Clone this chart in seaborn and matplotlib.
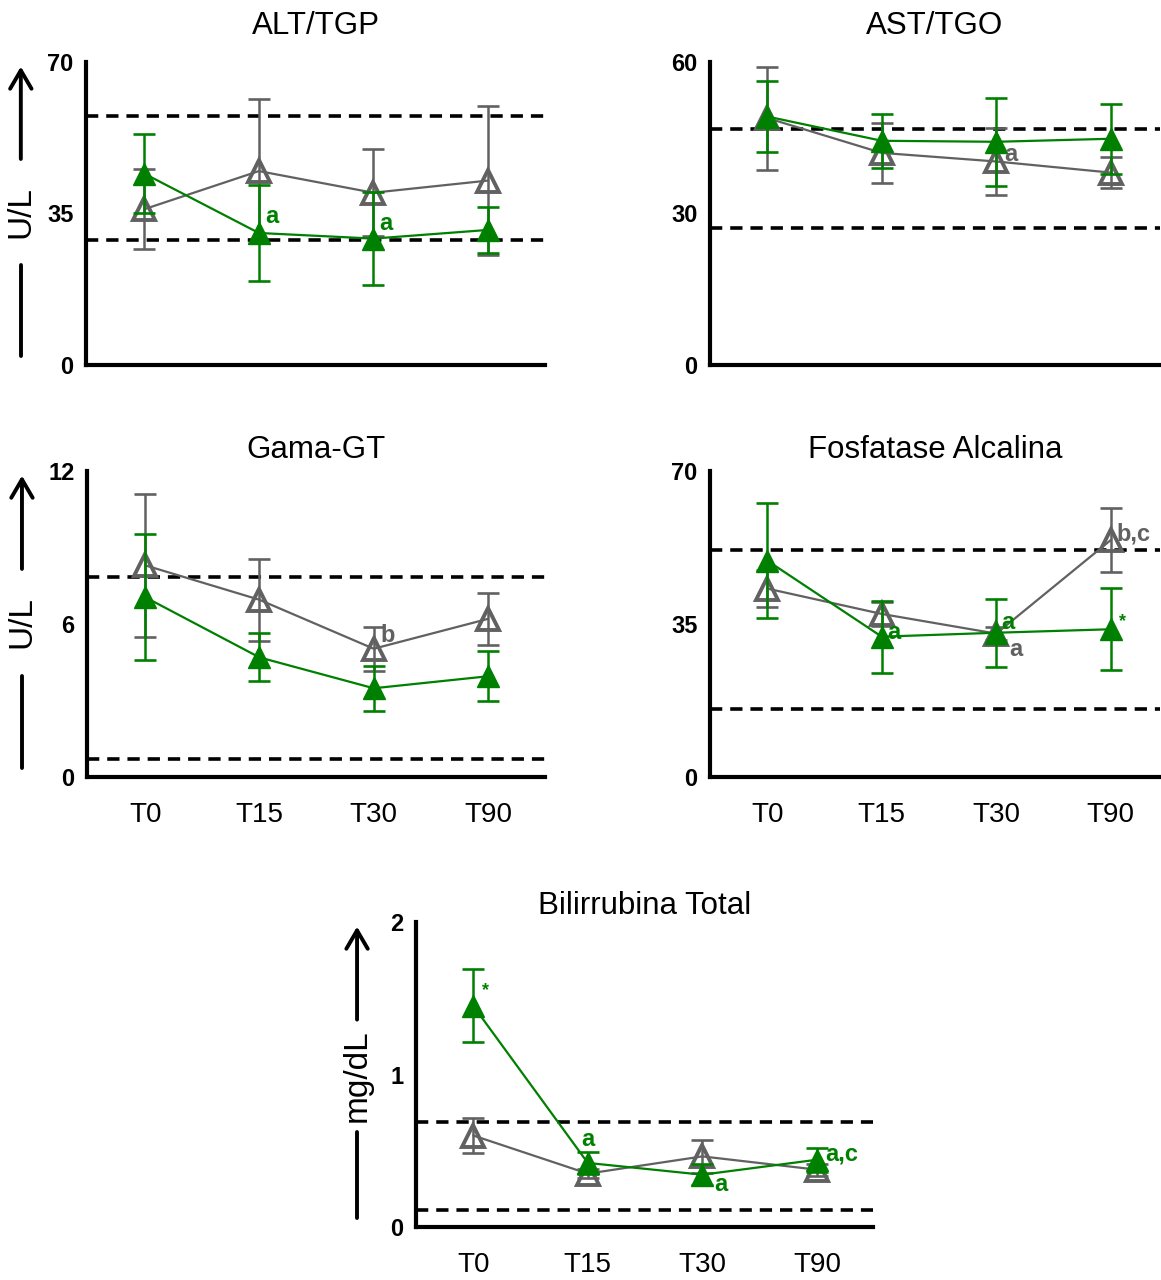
import matplotlib
matplotlib.use("Agg")
import matplotlib.pyplot as plt
import numpy as np
import pandas as pd
import seaborn as sns

# ---------------------------------------------------------------------------
# Data
# ---------------------------------------------------------------------------
times = ["T0", "T15", "T30", "T90"]

alt_grey = [36.0, 44.8, 39.8, 42.6]
alt_grey_sd = [9.2, 16.6, 10.1, 17.2]
alt_green = [44.2, 30.5, 29.2, 31.2]
alt_green_sd = [9.1, 11.1, 10.7, 5.4]
alt_ref = [57.5, 28.9]

ast_grey = [48.9, 42.0, 40.3, 38.1]
ast_grey_sd = [10.2, 6.0, 6.6, 3.0]
ast_green = [49.2, 44.4, 44.2, 44.8]
ast_green_sd = [7.0, 5.3, 8.7, 6.9]
ast_ref = [46.8, 27.1]

ggt_grey = [8.3, 6.95, 5.03, 6.2]
ggt_grey_sd = [2.8, 1.6, 0.87, 1.03]
ggt_green = [7.05, 4.69, 3.48, 3.95]
ggt_green_sd = [2.46, 0.94, 0.88, 0.98]
ggt_ref = [7.85, 0.71]

fa_grey = [43.1, 37.3, 32.8, 54.2]
fa_grey_sd = [4.2, 2.7, 1.5, 7.3]
fa_green = [49.5, 32.1, 33.0, 33.8]
fa_green_sd = [13.2, 8.2, 7.8, 9.4]
fa_ref = [51.9, 15.6]

bil_grey = [0.60, 0.35, 0.463, 0.376]
bil_grey_sd = [0.115, 0.03, 0.11, 0.04]
bil_green = [1.45, 0.42, 0.343, 0.441]
bil_green_sd = [0.24, 0.075, 0.07, 0.08]
bil_ref = [0.69, 0.113]

GREEN = "#008000"
GREY = "#616161"
W, H = 1161, 1280

sns.set_style("white")
plt.rcParams["font.family"] = ["Liberation Sans", "DejaVu Sans"]
plt.rcParams["text.color"] = "black"
plt.rcParams["xtick.color"] = "black"
plt.rcParams["ytick.color"] = "black"
plt.rcParams["axes.labelcolor"] = "black"


def px_axes(fig, left, right, top, bottom):
    return fig.add_axes([left / W, 1 - bottom / H, (right - left) / W, (bottom - top) / H])


def panel(ax, title, grey, grey_sd, green, green_sd, ref, yticks, xlim,
          show_x, title_pad, notes):
    x = np.arange(len(times))
    df = pd.DataFrame({"pos": np.concatenate([x, x]),
                       "valor": grey + green,
                       "grupo": ["grey"] * 4 + ["green"] * 4})
    for y in ref:
        ax.axhline(y, color="black", lw=2.6, ls=(0, (3.4, 2.2)), zorder=1)

    ax.errorbar(x, grey, yerr=grey_sd, fmt="none", ecolor=GREY, elinewidth=1.8,
                capsize=8, capthick=1.9, zorder=2)
    sns.lineplot(data=df[df.grupo == "grey"], x="pos", y="valor", ax=ax,
                 color=GREY, lw=1.6, marker="^", markersize=16,
                 markerfacecolor="none", markeredgecolor=GREY,
                 markeredgewidth=2.8, zorder=3)
    ax.errorbar(x, green, yerr=green_sd, fmt="none", ecolor=GREEN, elinewidth=1.8,
                capsize=8, capthick=1.9, zorder=4)
    sns.lineplot(data=df[df.grupo == "green"], x="pos", y="valor", ax=ax,
                 color=GREEN, lw=1.6, marker="^", markersize=16,
                 markerfacecolor=GREEN, markeredgecolor=GREEN,
                 markeredgewidth=1.0, zorder=5)

    for xi, yi, txt, col, ha, fs in notes:
        ax.text(xi, yi, txt, color=col, ha=ha, va="center", fontsize=fs,
                fontweight="bold", zorder=6)

    ax.set_xlim(*xlim)
    ax.set_ylim(0, yticks[-1])
    ax.set_yticks(yticks)
    ax.set_yticklabels([f"{t:g}" for t in yticks], fontweight="bold", fontsize=17)
    ax.set_xlabel("")
    ax.set_ylabel("")
    ax.set_title(title, fontsize=22.5, pad=title_pad)
    if show_x:
        ax.set_xticks(x)
        ax.set_xticklabels(times, fontsize=20)
        ax.tick_params(axis="x", length=8, width=2.5, direction="out", pad=10)
    else:
        ax.set_xticks([])
    ax.tick_params(axis="y", length=8, width=2.5, direction="out", pad=1)
    sns.despine(ax=ax)
    for s in ["left", "bottom"]:
        ax.spines[s].set_linewidth(3)
        ax.spines[s].set_color("black")


def unit_label(ax, text, xfrac, lo_top, hi_bot):
    ax.plot([xfrac, xfrac], [0.03, lo_top], color="black", lw=2.8,
            transform=ax.transAxes, clip_on=False)
    ax.annotate("", xy=(xfrac, 0.985), xytext=(xfrac, hi_bot),
                xycoords="axes fraction", textcoords="axes fraction",
                arrowprops=dict(arrowstyle="->,head_length=0.6,head_width=0.35",
                                lw=2.8, color="black", mutation_scale=22,
                                shrinkA=0, shrinkB=0))
    ax.text(xfrac, (lo_top + hi_bot) / 2, text, rotation=90, fontsize=24,
            ha="center", va="center", transform=ax.transAxes)


fig = plt.figure(figsize=(W / 100, H / 100), dpi=100)

ax1 = px_axes(fig, 86, 545, 62, 365)
ax2 = px_axes(fig, 710, 1160, 62, 365)
ax3 = px_axes(fig, 87, 545, 471, 777)
ax4 = px_axes(fig, 710, 1160, 471, 777)
ax5 = px_axes(fig, 416, 873, 922, 1227)

left_lim = (-0.51, 3.5)
right_lim = (-0.5, 3.43)

panel(ax1, "ALT/TGP", alt_grey, alt_grey_sd, alt_green, alt_green_sd, alt_ref,
      [0, 35, 70], left_lim, False, 20,
      [(1.06, 34.2, "a", GREEN, "left", 17), (2.05, 32.6, "a", GREEN, "left", 17)])
panel(ax2, "AST/TGO", ast_grey, ast_grey_sd, ast_green, ast_green_sd, ast_ref,
      [0, 30, 60], right_lim, False, 20,
      [(2.07, 41.7, "a", GREY, "left", 17)])
panel(ax3, "Gama-GT", ggt_grey, ggt_grey_sd, ggt_green, ggt_green_sd, ggt_ref,
      [0, 6, 12], left_lim, True, 9,
      [(2.06, 5.55, "b", GREY, "left", 17)])
panel(ax4, "Fosfatase Alcalina", fa_grey, fa_grey_sd, fa_green, fa_green_sd, fa_ref,
      [0, 35, 70], right_lim, True, 9,
      [(1.05, 33.0, "a", GREEN, "left", 17), (2.04, 35.4, "a", GREEN, "left", 17),
       (2.11, 29.2, "a", GREY, "left", 17), (3.05, 55.6, "b,c", GREY, "left", 17),
       (3.07, 35.6, "*", GREEN, "left", 13)])
panel(ax5, "Bilirrubina Total", bil_grey, bil_grey_sd, bil_green, bil_green_sd, bil_ref,
      [0, 1, 2], (-0.5, 3.49), True, 6,
      [(0.08, 1.55, "*", GREEN, "left", 13), (1.0, 0.577, "a", GREEN, "center", 17),
       (2.1, 0.28, "a", GREEN, "left", 17), (3.07, 0.478, "a,c", GREEN, "left", 17)])

unit_label(ax1, "U/L", -0.142, 0.33, 0.68)
unit_label(ax3, "U/L", -0.142, 0.33, 0.68)
unit_label(ax5, "mg/dL", -0.129, 0.31, 0.68)

fig.savefig("out.png", dpi=100)
